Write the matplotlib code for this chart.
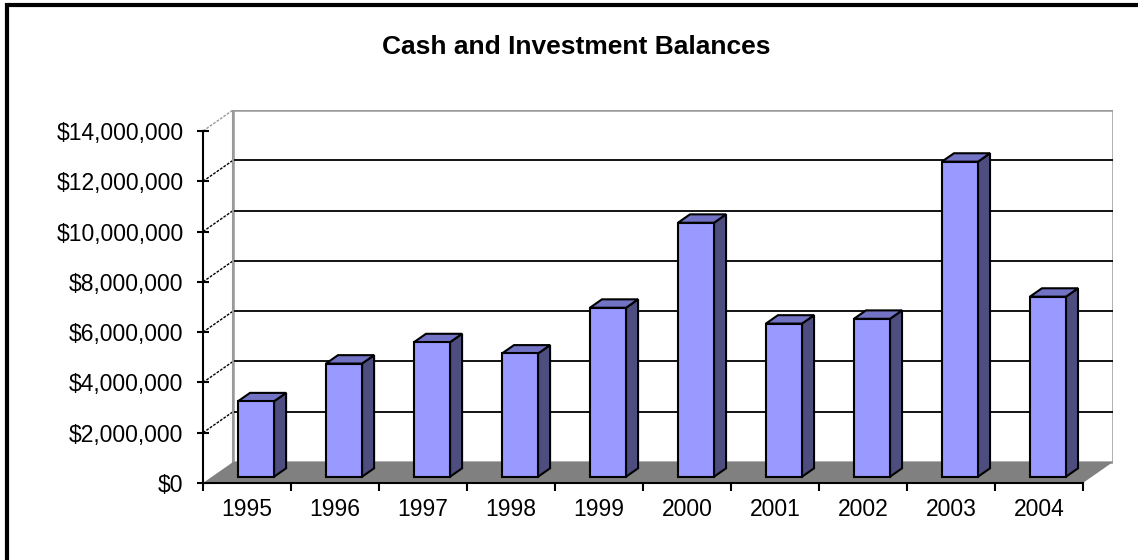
import matplotlib
matplotlib.use("Agg")
import matplotlib.pyplot as plt
from matplotlib.patches import Polygon, Rectangle
from matplotlib.ticker import FuncFormatter

plt.rcParams['font.family'] = ['Liberation Sans', 'DejaVu Sans']

# data
years = ["1995", "1996", "1997", "1998", "1999", "2000", "2001", "2002", "2003", "2004"]
balances = [3.0e6, 4.5e6, 5.35e6, 4.9e6, 6.72e6, 10.1e6, 6.09e6, 6.28e6, 12.53e6, 7.16e6]
y_ticks = [0, 2e6, 4e6, 6e6, 8e6, 10e6, 12e6, 14e6]

# fake 3D: depth offset of the back wall, in data units
ymax = 14e6
depth_x = 0.342
depth_y = 0.835e6
bar_w = 0.41
f_front, f_back = 0.3, 0.7

front_c = "#9999FF"
side_c = "#4D4D80"
top_c = "#7373C6"

n = len(years)
fig = plt.figure(figsize=(11.38, 5.6), dpi=100)
W, H = 1138, 560
ax = fig.add_axes([203 / W, (H - 483) / H, (1113 - 203) / W, (483 - 110) / H])
ax.set_xlim(0, n + depth_x)
ax.set_ylim(0, ymax + depth_y)
ax.patch.set_visible(False)

# back wall
ax.add_patch(Rectangle((depth_x, depth_y), n, ymax, facecolor="white",
                       edgecolor="#999999", lw=1.8, zorder=1))
# floor
ax.add_patch(Polygon([(0, 0), (n, 0), (n + depth_x, depth_y), (depth_x, depth_y)],
                     closed=True, facecolor="#808080", edgecolor="none", zorder=2))
# gridlines on back wall and left side wall
for v in y_ticks[1:]:
    col = "#999999" if v == ymax else "black"
    if v < ymax:
        ax.plot([depth_x, n + depth_x], [v + depth_y, v + depth_y], color="black", lw=1.3, zorder=1.5)
    ax.plot([0, depth_x], [v, v + depth_y], color=col, lw=1.0, ls=(0, (2, 1)), zorder=1.5)
ax.plot([depth_x, depth_x], [depth_y, ymax + depth_y], color="#999999", lw=1.5, zorder=1.6)

# bars
for i, v in enumerate(balances):
    xl = i + 0.5 - bar_w / 2 + f_front * depth_x
    xr = xl + bar_w
    y0 = f_front * depth_y
    ddx = (f_back - f_front) * depth_x
    ddy = (f_back - f_front) * depth_y
    ax.add_patch(Polygon([(xr, y0), (xr + ddx, y0 + ddy), (xr + ddx, v + y0 + ddy), (xr, v + y0)],
                         closed=True, facecolor=side_c, edgecolor="black", lw=1.5, zorder=3))
    ax.add_patch(Polygon([(xl, v + y0), (xr, v + y0), (xr + ddx, v + y0 + ddy), (xl + ddx, v + y0 + ddy)],
                         closed=True, facecolor=top_c, edgecolor="black", lw=1.5, zorder=3))
    ax.add_patch(Rectangle((xl, y0), bar_w, v, facecolor=front_c, edgecolor="black", lw=1.5, zorder=4))

# axes
for s in ["top", "right"]:
    ax.spines[s].set_visible(False)
ax.spines["left"].set_bounds(0, ymax)
ax.spines["bottom"].set_bounds(0, n)
ax.spines["left"].set_linewidth(1.5)
ax.spines["bottom"].set_linewidth(1.5)
ax.spines["left"].set_zorder(5)
ax.spines["bottom"].set_zorder(5)

ax.set_yticks(y_ticks)
ax.yaxis.set_major_formatter(FuncFormatter(lambda v, p: "${:,.0f}".format(v)))
ax.tick_params(axis="y", direction="inout", length=8, width=1.5, labelsize=16.5, pad=10)

ax.set_xticks(range(n + 1))
ax.set_xticklabels([])
ax.set_xticks([i + 0.5 for i in range(n)], minor=True)
ax.set_xticklabels(years, minor=True)
ax.tick_params(axis="x", which="major", direction="out", length=6, width=1.5)
ax.tick_params(axis="x", which="minor", length=0, labelsize=16.5, pad=11)

fig.text(576 / W, 1 - 47 / H, "Cash and Investment Balances", ha="center", va="center",
         fontsize=19, fontweight="bold")

# outer frame (only left and top sides fall inside the picture)
fig.patches.append(Rectangle((7 / W, -0.1), 1.2, 1.1 - 5 / H, transform=fig.transFigure,
                             fill=False, edgecolor="black", lw=3))

fig.savefig("out.png", dpi=100)
